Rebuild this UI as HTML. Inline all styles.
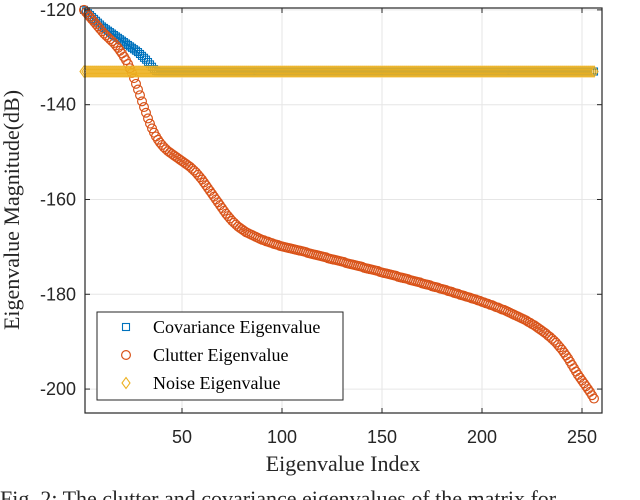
<!DOCTYPE html>
<html><head><meta charset="utf-8"><style>
html,body{margin:0;padding:0;background:#fff;overflow:hidden;width:640px;height:500px}
svg{display:block}
.tk{font-family:"Liberation Sans",sans-serif;font-size:18px;fill:#262626}
.lb{font-family:"Liberation Serif",serif;font-size:22px;fill:#262626}
.lg{font-family:"Liberation Serif",serif;font-size:18px;fill:#000}
</style></head><body>
<svg id="chart" width="640" height="500">
<rect x="85" y="8" width="517" height="405" fill="#fff"/>
<g id="grid"></g><g id="marks"></g><g id="axes"></g>
<text class="lb" x="343" y="471" text-anchor="middle">Eigenvalue Index</text>
<text class="lb" transform="translate(19,210) rotate(-90)" text-anchor="middle">Eigenvalue Magnitude(dB)</text>
<text class="lb" x="0" y="506">Fig. 2: The clutter and covariance eigenvalues of the matrix for</text>
<g id="legend">
<rect x="97" y="312" width="246" height="88" fill="#fff" stroke="#262626" stroke-width="1"/>
</g>
</svg>
<script>
const xTicks=[50,100,150,200,250];
const yTicks=[-200,-180,-160,-140,-120];
const noiseLevel=-133;
const clutter=[-120,-120.5,-121,-121.5,-122,-122.5,-123,-123.5,-124,-124.5,
-125,-125.4,-125.8,-126.2,-126.6,-127,-127.5,-128,-128.6,-129.2,
-129.9,-130.6,-131.4,-132.3,-133.3,-134.4,-135.6,-136.8,-138,-139.3,
-140.5,-141.7,-142.9,-144,-145,-145.9,-146.7,-147.4,-148,-148.5,
-149,-149.4,-149.8,-150.1,-150.4,-150.7,-151,-151.3,-151.6,-151.9,
-152.2,-152.5,-152.8,-153.1,-153.5,-153.9,-154.3,-154.8,-155.3,-155.8,
-156.4,-157,-157.6,-158.2,-158.8,-159.4,-160,-160.6,-161.2,-161.8,
-162.4,-163,-163.5,-164,-164.5,-164.9,-165.3,-165.7,-166,-166.3,
-166.6,-166.9,-167.1,-167.3,-167.5,-167.7,-167.9,-168.1,-168.3,-168.5,
-168.6,-168.8,-168.9,-169.1,-169.2,-169.4,-169.5,-169.6,-169.8,-169.9,
-170,-170.1,-170.2,-170.3,-170.4,-170.5,-170.6,-170.7,-170.8,-170.9,
-171,-171.1,-171.3,-171.4,-171.5,-171.6,-171.7,-171.8,-171.9,-172,
-172.1,-172.2,-172.4,-172.5,-172.6,-172.7,-172.8,-172.9,-173,-173.1,
-173.2,-173.4,-173.5,-173.6,-173.7,-173.8,-173.9,-174,-174.1,-174.2,
-174.4,-174.5,-174.6,-174.7,-174.8,-174.9,-175,-175.1,-175.3,-175.4,
-175.5,-175.6,-175.7,-175.8,-175.9,-176,-176.1,-176.3,-176.4,-176.5,
-176.6,-176.7,-176.8,-177,-177.1,-177.2,-177.3,-177.4,-177.5,-177.7,
-177.8,-177.9,-178,-178.1,-178.3,-178.4,-178.5,-178.6,-178.8,-178.9,
-179,-179.1,-179.3,-179.4,-179.5,-179.7,-179.8,-179.9,-180.1,-180.2,
-180.3,-180.5,-180.6,-180.7,-180.9,-181,-181.1,-181.3,-181.4,-181.6,
-181.7,-181.9,-182,-182.2,-182.3,-182.5,-182.7,-182.8,-183,-183.2,
-183.3,-183.5,-183.7,-183.9,-184.1,-184.3,-184.5,-184.7,-184.9,-185.1,
-185.3,-185.5,-185.8,-186,-186.3,-186.5,-186.8,-187.1,-187.4,-187.7,
-188,-188.3,-188.7,-189,-189.4,-189.8,-190.2,-190.7,-191.2,-191.7,
-192.3,-192.9,-193.5,-194.2,-194.9,-195.6,-196.3,-197,-197.6,-198.2,
-198.8,-199.4,-200,-200.6,-201.3,-202];
const covarianceHead=[-120,-120.3,-120.7,-121.1,-121.5,-121.9,-122.3,-122.7,-123.1,-123.5,
-123.8,-124.1,-124.4,-124.7,-125,-125.3,-125.6,-125.9,-126.2,-126.5,
-126.8,-127.1,-127.4,-127.7,-128,-128.3,-128.6,-128.9,-129.3,-129.7,
-130.1,-130.5,-131,-131.5,-132,-132.5,-132.9];
const nPoints=256;
const covariance=Array.from({length:nPoints},(_,i)=>i<covarianceHead.length?covarianceHead[i]:noiseLevel);
const noise=Array.from({length:nPoints},()=>noiseLevel);

const NS='http://www.w3.org/2000/svg';
const L=85,R=602,T=8,B=413;
const xMin=1.5,xMax=260,yMin=-205.05,yMax=-119.6;
const xs=v=>L+(v-xMin)/(xMax-xMin)*(R-L);
const ys=v=>B-(v-yMin)/(yMax-yMin)*(B-T);
function mk(tag,attrs,parent){const e=document.createElementNS(NS,tag);for(const k in attrs)e.setAttribute(k,attrs[k]);parent.appendChild(e);return e;}
const grid=document.getElementById('grid'),marks=document.getElementById('marks'),axes=document.getElementById('axes');
xTicks.forEach(t=>{
 const g=mk('line',{x1:xs(t),x2:xs(t),y1:T,y2:B,stroke:'#e6e6e6'},grid);
 
 
 mk('line',{x1:xs(t),x2:xs(t),y1:B,y2:B-5,stroke:'#262626'},axes);
 mk('line',{x1:xs(t),x2:xs(t),y1:T,y2:T+5,stroke:'#262626'},axes);
 const tx=mk('text',{x:xs(t),y:443,'text-anchor':'middle',class:'tk'},axes);
 tx.textContent=t;
 
 
});
yTicks.forEach(t=>{
 const g=mk('line',{x1:L,x2:R,y1:ys(t),y2:ys(t),stroke:'#e6e6e6'},grid);
 
 
 mk('line',{x1:L,x2:L+5,y1:ys(t),y2:ys(t),stroke:'#262626'},axes);
 mk('line',{x1:R,x2:R-5,y1:ys(t),y2:ys(t),stroke:'#262626'},axes);
 const tx=mk('text',{x:L-9,y:ys(t)+6,'text-anchor':'end',class:'tk'},axes);
 tx.textContent=t;
 
 
});
const frame=mk('rect',{x:L,y:T,width:R-L,height:B-T,fill:'none',stroke:'#262626','stroke-width':1.2},axes);


function sq(x,y,p,c){return mk('rect',{x:x-3.5,y:y-3.5,width:7,height:7,fill:'none',stroke:c,'stroke-width':1.1},p);}
function ci(x,y,p,c){return mk('circle',{cx:x,cy:y,r:4.4,fill:'none',stroke:c,'stroke-width':1.2},p);}
function di(x,y,p,c){return mk('polygon',{points:`${x},${y-5.5} ${x+4},${y} ${x},${y+5.5} ${x-4},${y}`,fill:'none',stroke:c,'stroke-width':1.1},p);}
const series=[[covariance,sq,'#0072BD','covariance-point'],[clutter,ci,'#D95319','clutter-point'],[noise,di,'#EDB120','noise-point']];
series.forEach(([arr,fn,c,name])=>{
 const g=mk('g',{},marks);
 
 
 arr.forEach((v,i)=>{const m=fn(xs(i+1),ys(v),g,c);
  
  });
});
const lg=document.getElementById('legend');
const names=['Covariance Eigenvalue','Clutter Eigenvalue','Noise Eigenvalue'];
series.forEach(([arr,fn,c],k)=>{
 const y=327+k*28;
 const e=mk('g',{},lg);
 
 
 fn(126,y,e,c);
 const t=mk('text',{x:153,y:y+6,class:'lg'},e);
 t.textContent=names[k];
});
</script>
</body></html>
